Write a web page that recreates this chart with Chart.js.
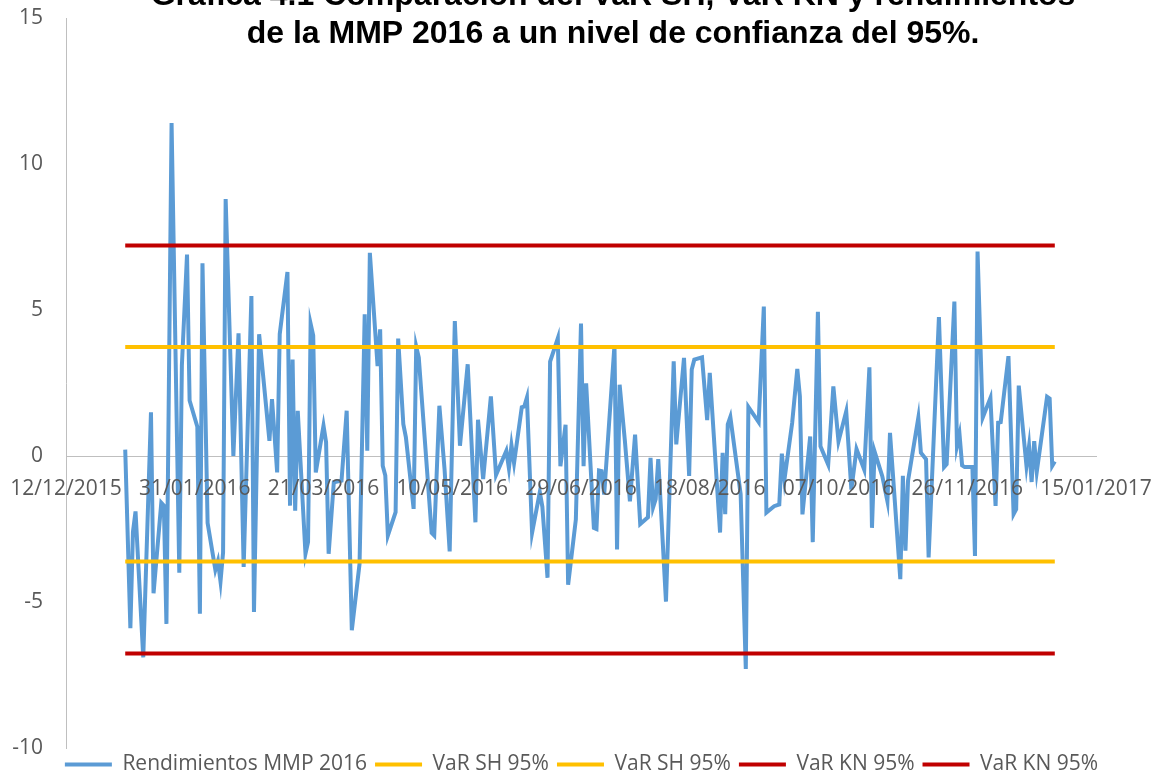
<!DOCTYPE html>
<html>
<head>
	<meta charset="utf-8">
	<title>Comparación del VaR SH, VaR KN y rendimientos de la MMP 2016</title>
	<script src="https://cdn.jsdelivr.net/npm/chart.js"></script>
	<style type="text/css">
		body {
			margin: 0;
			padding: 0;
			background: #ffffff;
			overflow: hidden;
		}
	</style>
</head>
<body>
	<canvas id="chart" width="1163" height="776"></canvas>

	<script>
		// Título (la primera línea queda cortada arriba, como en el original)
		var titulo = [
			'Gráfica 4.1 Comparación del VaR SH, VaR KN y rendimientos',
			'de la MMP 2016 a un nivel de confianza del 95%.'
		];

		// Día del año 2016 (1 = 01/01/2016) de cada observación
		var dias = [
			4, 6, 7, 8, 11, 14, 15, 18, 19, 20, 22, 25, 26, 28, 29, 32, 33, 34, 36, 39,
			40, 41, 42, 43, 46, 48, 50, 53, 54, 56, 60, 61, 63, 64, 67, 68, 69, 70, 71, 74,
			75, 76, 77, 78, 81, 82, 83, 85, 88, 90, 92, 95, 97, 98, 99, 102, 103, 104, 105, 106,
			109, 110, 112, 113, 116, 117, 118, 123, 124, 126, 128, 130, 132, 134, 137, 140, 141, 143, 146, 148,
			152, 153, 154, 155, 158, 159, 160, 162, 165, 166, 168, 169, 172, 173, 175, 176, 179, 181, 182, 183,
			186, 187, 188, 189, 190, 194, 195, 196, 198, 200, 202, 204, 207, 208, 209, 210, 211, 214, 217, 218,
			221, 223, 224, 225, 228, 230, 231, 235, 236, 237, 238, 239, 243, 245, 246, 250, 252, 253, 256, 258,
			259, 260, 263, 265, 266, 267, 270, 271, 273, 274, 277, 279, 281, 284, 286, 288, 291, 293, 294, 295,
			298, 300, 301, 305, 306, 307, 308, 312, 313, 315, 316, 320, 322, 323, 326, 327, 328, 329, 330, 333,
			334, 335, 337, 340, 342, 343, 344, 347, 349, 350, 351, 354, 355, 356, 357, 358, 362, 363, 364, 365
		];

		// Rendimientos MMP 2016 (%)
		var rendimientos = [
			0.22, -5.9, -2.6, -1.9, -6.9, 1.5, -4.7, -1.6, -1.7, -5.75, 11.4, -4.0, 3.1, 6.9, 1.9, 1.0, -5.4, 6.6, -2.3, -3.9,
			-3.6, -4.3, -3.3, 8.8, 0.0, 4.2, -3.8, 5.48, -5.34, 4.17, 0.52, 1.95, -0.56, 4.17, 6.3, -1.7, 3.3, -1.87, 1.55, -3.35,
			-2.95, 4.53, 4.13, -0.56, 1.04, 0.47, -3.35, -0.9, -0.84, 1.55, -5.97, -3.69, 4.85, 0.18, 6.96, 3.08, 4.34, -0.33, -0.67, -2.72,
			-1.92, 4.02, 1.09, 0.64, -1.81, 3.75, 3.37, -2.63, -2.72, 1.72, -0.44, -3.27, 4.62, 0.35, 3.14, -2.27, 1.24, -0.79, 2.04, -0.65,
			0.18, -0.42, 0.37, -0.24, 1.67, 1.7, 2.0, -2.63, -1.24, -1.74, -4.17, 3.23, 4.03, -0.35, 1.07, -4.41, -2.17, 4.54, -0.35, 2.49,
			-2.46, -2.5, -0.5, -0.52, -1.32, 3.8, -3.2, 2.44, 0.56, -1.55, 0.73, -2.33, -2.1, -0.06, -1.76, -1.48, -0.11, -4.99, 3.24, 0.4,
			3.36, -0.68, 2.96, 3.3, 3.38, 1.23, 2.85, -2.62, 0.11, -1.99, 1.08, 1.34, -1.31, -7.29, 1.68, 1.16, 5.12, -1.94, -1.72, -1.66,
			0.08, -0.81, 1.13, 2.98, 2.04, -2.0, 0.67, -2.95, 4.94, 0.33, -0.3, 2.38, 0.5, 1.53, -1.15, 0.24, -0.47, 3.04, -2.46, 0.16,
			-0.69, -1.55, 0.79, -4.22, -0.68, -3.24, -0.85, 1.31, 0.11, -0.11, -3.47, 4.76, -0.38, -0.28, 5.29, 0.34, 0.74, -0.32, -0.38, -0.38,
			-3.42, 7.0, 1.31, 1.99, -1.71, 1.14, 1.16, 3.42, -1.99, -1.82, 2.41, -0.34, 0.34, -0.89, 0.51, -0.54, 2.03, 1.97, -0.34, -0.19
		];

		// Niveles de VaR al 95%
		var varSH = [3.73, -3.61];
		var varKN = [7.21, -6.76];

		// Eje X: fechas en serie de Excel (12/12/2015 ... 15/01/2017, cada 50 días)
		var ejeX = { min: 42350, max: 42750, paso: 50 };
		var ejeY = { min: -10, max: 15, paso: 5 };
		var base2016 = 42369; // día 1 de 2016 = 42370

		function fechaExcel(n) {
			var d = new Date(Date.UTC(1899, 11, 30) + n * 86400000);
			var dd = ('0' + d.getUTCDate()).slice(-2);
			var mm = ('0' + (d.getUTCMonth() + 1)).slice(-2);
			return dd + '/' + mm + '/' + d.getUTCFullYear();
		}

		var puntos = dias.map(function(d, i) { return { x: base2016 + d, y: rendimientos[i] }; });
		var xIni = base2016 + dias[0];
		var xFin = base2016 + dias[dias.length - 1];
		function nivel(v) { return [{ x: xIni, y: v }, { x: xFin, y: v }]; }

		var azul = '#5B9BD5', amarillo = '#FFC000', rojo = '#C00000';
		var grisTexto = '#595959', grisEje = '#BFBFBF';

		function serie(etiqueta, datos, color, orden) {
			return {
				label: etiqueta,
				data: datos,
				borderColor: color,
				backgroundColor: color,
				borderWidth: 4,
				pointRadius: 0,
				pointHoverRadius: 0,
				pointStyle: 'line',
				pointBorderColor: color,
				pointBorderWidth: 4,
				tension: 0,
				fill: false,
				order: orden
			};
		}

		// sin márgenes extra por las etiquetas de los ejes
		function sinMargen(s) {
			s.paddingLeft = 0; s.paddingRight = 0;
			s.paddingTop = 0; s.paddingBottom = 0;
		}

		// Título superpuesto y pequeño ajuste de la leyenda
		var extras = {
			id: 'extras',
			afterLayout: function(chart) {
				chart.legend.top -= 2;
				chart.legend.bottom -= 2;
			},
			afterDraw: function(chart) {
				var ctx = chart.ctx;
				ctx.save();
				ctx.font = 'bold 32px "Liberation Sans", Arial, sans-serif';
				ctx.fillStyle = '#000000';
				ctx.textAlign = 'center';
				ctx.textBaseline = 'alphabetic';
				ctx.fillText(titulo[0], 613, 5);
				ctx.fillText(titulo[1], 613, 43);
				ctx.restore();
			}
		};

		Chart.defaults.font.family = '"Open Sans", sans-serif';

		var ctx = document.getElementById('chart').getContext('2d');
		var chart = new Chart(ctx, {
			type: 'line',
			data: {
				datasets: [
					serie('Rendimientos MMP 2016', puntos, azul, 1),
					serie('VaR SH 95%', nivel(varSH[0]), amarillo, 0),
					serie('VaR SH 95%', nivel(varSH[1]), amarillo, 0),
					serie('VaR KN 95%', nivel(varKN[0]), rojo, 0),
					serie('VaR KN 95%', nivel(varKN[1]), rojo, 0)
				]
			},
			options: {
				responsive: false,
				animation: false,
				events: [],
				layout: { padding: { top: 18, bottom: -11, left: 0, right: 0 } },
				plugins: {
					title: { display: false },
					tooltip: { enabled: false },
					legend: {
						position: 'bottom',
						labels: {
							usePointStyle: true,
							pointStyleWidth: 47,
							padding: 8,
							color: grisTexto,
							font: { size: 21 },
							sort: function(a, b) { return a.datasetIndex - b.datasetIndex; }
						}
					}
				},
				scales: {
					x: {
						type: 'linear',
						min: ejeX.min,
						max: ejeX.max,
						position: { y: 0 },
						grid: { display: false, drawTicks: false },
						border: { display: true, color: grisEje, width: 1 },
						ticks: {
							z: 1,
							stepSize: ejeX.paso,
							autoSkip: false,
							maxRotation: 0,
							padding: 20,
							color: grisTexto,
							font: { size: 21 },
							callback: function(v) { return fechaExcel(v); }
						},
						afterFit: sinMargen
					},
					y: {
						type: 'linear',
						position: 'left',
						min: ejeY.min,
						max: ejeY.max,
						grid: { display: false, drawTicks: false },
						border: { display: true, color: grisEje, width: 1 },
						ticks: {
							stepSize: ejeY.paso,
							padding: 23,
							color: grisTexto,
							font: { size: 21 }
						},
						afterFit: function(s) { sinMargen(s); s.width = 66; }
					},
					margen: {
						type: 'linear',
						position: 'right',
						grid: { display: false },
						border: { display: false },
						ticks: { display: false },
						afterFit: function(s) { sinMargen(s); s.width = 67; }
					}
				}
			},
			plugins: [extras]
		});
	</script>
</body>
</html>
